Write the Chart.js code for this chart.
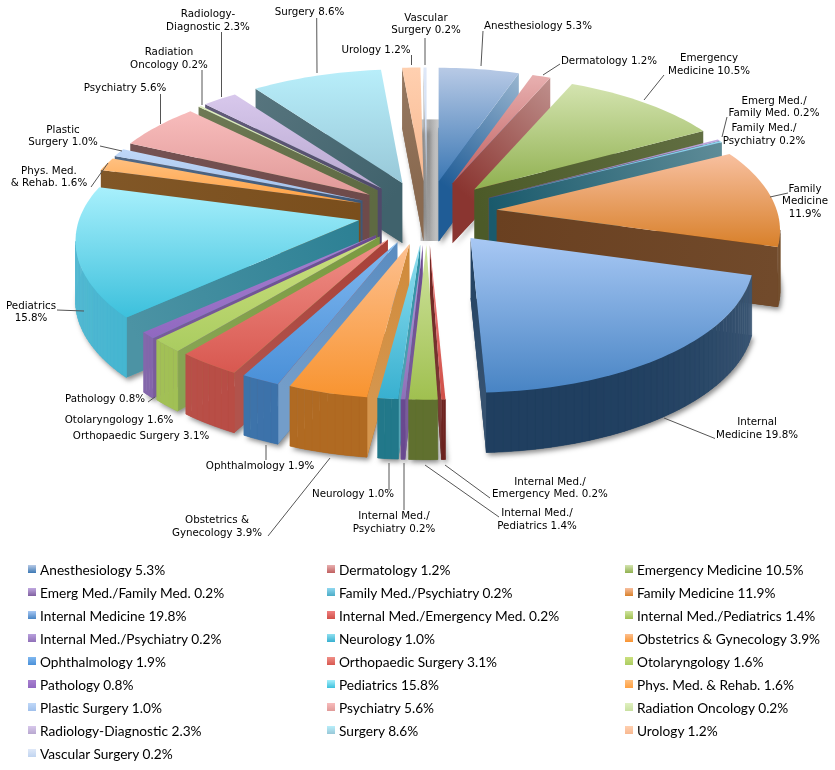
<!DOCTYPE html>
<html>
<head>
<meta charset="utf-8">
<title>Specialties</title>
<script src="https://cdn.jsdelivr.net/npm/chart.js@4"></script>
<style>
    html, body { margin: 0; background: #fff; }
    #wrap { position: relative; width: 835px; height: 770px; overflow: hidden; }
    #legend3d { position: absolute; left: 0; top: 557.5px; width: 835px; font: 13.7px Lato, sans-serif; color: #000; }
    #legend3d div { position: absolute; white-space: nowrap; line-height: 23px; }
    #legend3d i { position: absolute; left: -12px; top: 7px; width: 8px; height: 8px; }
</style>
</head>
<body>
<div id="wrap">
    <canvas id="specialtyChart" width="835" height="770"></canvas>
    <div id="legend3d"></div>
</div>
<script>
const specialties = ['Anesthesiology', 'Dermatology', 'Emergency Medicine', 'Emerg Med./Family Med.', 'Family Med./Psychiatry',
    'Family Medicine', 'Internal Medicine', 'Internal Med./Emergency Med.', 'Internal Med./Pediatrics', 'Internal Med./Psychiatry',
    'Neurology', 'Obstetrics & Gynecology', 'Ophthalmology', 'Orthopaedic Surgery', 'Otolaryngology', 'Pathology', 'Pediatrics',
    'Phys. Med. & Rehab.', 'Plastic Surgery', 'Psychiatry', 'Radiation Oncology', 'Radiology-Diagnostic', 'Surgery', 'Urology', 'Vascular Surgery'];
const percents = [5.3, 1.2, 10.5, 0.2, 0.2, 11.9, 19.8, 0.2, 1.4, 0.2, 1.0, 3.9, 1.9, 3.1, 1.6, 0.8, 15.8, 1.6, 1.0, 5.6, 0.2, 2.3, 8.6, 1.2, 0.2];

// top face gradient, pale end and full end
const paleColors = ['#b8cae6', '#e8b0b0', '#d4e4b0', '#c0a8e0', '#90d8f0', '#f8c0a0', '#a8c8f4', '#f08080', '#d0e4a0', '#b8a0dc',
    '#90e0f0', '#fdc090', '#80b8f0', '#f09088', '#cce080', '#a880d0', '#a8f0fc', '#ffc080', '#c0d8f8', '#f8bcbc', '#e0f0c0', '#d8c8ec', '#b8eefa', '#ffd0b0', '#dfe8f8'];
const fullColors = ['#3c78b4', '#c06060', '#90b050', '#8060a0', '#4bacc6', '#d8802a', '#4884c4', '#d05048', '#a0c050', '#9070b8',
    '#38b0d0', '#f89430', '#4a90d8', '#d85850', '#aacc60', '#9068c0', '#3cc0dc', '#ffa040', '#a0c0ec', '#e09a98', '#c8e0a0', '#b8a8d0', '#98c8d8', '#f8b890', '#c0d4f0'];
const rimColors = ['#1f5c96', '#8a3530', '#4c5a28', '#5a4a78', '#1a5a6c', '#65380f', '#203f60', '#6e2420', '#60702f', '#6a4a90',
    '#22788a', '#b06a22', '#3c72aa', '#b84c44', '#a0bf50', '#8060a8', '#3cb4d0', '#7a4e1c', '#3e5878', '#6e4a4a', '#5e6a42', '#504a6a', '#46656f', '#8a6a50', '#a8a8a8'];
const sideColors = ['#1f5c96', '#8a3530', '#4c5a28', '#5a4a78', '#1a5a6c', '#6a4020', '#203f60', '#6e2420', '#60702f', '#6a4a90',
    '#2a8ea2', '#d08a3a', '#5a8cc0', '#a84038', '#7a9a40', '#6a4a90', '#2c8094', '#7a4e1c', '#3e5878', '#6e4a4a', '#5e6a42', '#504a6a', '#40626c', '#8a6a50', '#a8a8a8'];
const sideLift = [0.55, 0.45, 0.12, 0.1, 0.3, 0.05, 0.1, 0.1, 0.1, 0.1, 0.2, 0.1, 0.15, 0.1, 0.1, 0.1, 0.15, 0.05, 0.1, 0.05, 0.1, 0.1, 0.12, 0.1, 0.1];

// callout text, its centre and first row, and the leader ends
const labelLines = [['Anesthesiology 5.3%'], ['Dermatology 1.2%'], ['Emergency', 'Medicine 10.5%'], ['Emerg Med./', 'Family Med. 0.2%'], ['Family Med./', 'Psychiatry 0.2%'],
    ['Family', 'Medicine', '11.9%'], ['Internal', 'Medicine 19.8%'], ['Internal Med./', 'Emergency Med. 0.2%'], ['Internal Med./', 'Pediatrics 1.4%'], ['Internal Med./', 'Psychiatry 0.2%'],
    ['Neurology 1.0%'], ['Obstetrics &', 'Gynecology 3.9%'], ['Ophthalmology 1.9%'], ['Orthopaedic Surgery 3.1%'], ['Otolaryngology 1.6%'], ['Pathology 0.8%'], ['Pediatrics', '15.8%'],
    ['Phys. Med.', '& Rehab. 1.6%'], ['Plastic', 'Surgery 1.0%'], ['Psychiatry 5.6%'], ['Radiation', 'Oncology 0.2%'], ['Radiology-', 'Diagnostic 2.3%'], ['Surgery 8.6%'], ['Urology 1.2%'], ['Vascular', 'Surgery 0.2%']];
const labelX = [538, 609, 709, 774, 764, 805, 757, 550, 537, 394, 353, 217, 260, 141, 119, 105, 31, 49, 63, 125, 169, 208, 309.5, 376, 426];
const labelY = [26, 61, 58.5, 101, 128.5, 189, 422.5, 482, 513.5, 516.5, 494.5, 520.5, 466.5, 436.5, 420, 399.5, 306, 171, 130, 88.5, 52.5, 14.5, 12.7, 50, 18];
const leaderEnds = [[483, 31, 481, 66], [560, 64, 543, 75], [664, 75, 644, 100], [727, 117, 722, 137], null, [788, 193, 770, 197], [715, 438.5, 664, 418], [490, 498, 445, 465], [499, 517, 425, 465], [404, 510, 404, 463],
    [389, 490, 389, 463], [268, 536, 330, 458], [266, 460, 266, 445], null, null, [148, 402, 155, 397], [57, 310, 84, 311], [91, 187, 108, 163], [100, 146, 122, 151], [160.5, 94, 160.5, 124], [202, 70, 202, 105], [221.5, 32, 221.5, 97], [316.7, 18, 317, 73], [411.5, 55, 411.5, 65], [425, 38, 425, 65]];

// projection of the tilted pie
const centerX = 427, centerY = 213;
const explodeX = 70, explodeY = 32;
const radiusX = 280, radiusY = 131, tilt = 0.153;
const wallDepth = 60;

function rgb(hex) {
    return [1, 3, 5].map(i => parseInt(hex.slice(i, i + 2), 16));
}
function mix(a, b, t) {
    const ca = rgb(a), cb = rgb(b);
    return 'rgb(' + ca.map((v, i) => Math.round(v + (cb[i] - v) * t)).join(',') + ')';
}

function sliceOutline(arc) {
    const from = arc.startAngle + Math.PI / 2;
    const to = arc.endAngle + Math.PI / 2;
    const mid = (from + to) / 2;
    const apex = [centerX + explodeX * Math.sin(mid), centerY - explodeY * Math.cos(mid)];
    const project = t => {
        const p = 1 / (1 + tilt * Math.cos(t));
        return [apex[0] + radiusX * Math.sin(t) * p, apex[1] - radiusY * Math.cos(t) * p];
    };
    const steps = Math.max(2, Math.ceil((to - from) * 40));
    const pts = [apex];
    for (let s = 0; s <= steps; s++) {
        pts.push(project(from + (to - from) * s / steps));
    }
    return { pts, apex, mid };
}

function tracePoly(ctx, pts, dy) {
    ctx.beginPath();
    pts.forEach((p, i) => i ? ctx.lineTo(p[0], p[1] + dy) : ctx.moveTo(p[0], p[1] + dy));
    ctx.closePath();
}

// soft grey strip on the ground behind the two thin back slices
function drawBackShadow(ctx, arcs) {
    const thin = sliceOutline(arcs[arcs.length - 1]);
    const next = sliceOutline(arcs[0]);
    const left = thin.apex[0] - 6, right = next.apex[0] + 2;
    const top = thin.pts[1][1] + wallDepth - 8, bottom = thin.apex[1] + wallDepth;
    const band = ctx.createLinearGradient(left, 0, right, 0);
    band.addColorStop(0, '#c8c8c8');
    band.addColorStop(0.45, '#a8a8a8');
    band.addColorStop(1, '#d4d4d4');
    ctx.fillStyle = band;
    ctx.fillRect(left, top, right - left, bottom - top);
}

function drawSlice(ctx, arc, i) {
    const { pts, apex } = sliceOutline(arc);
    const n = pts.length;

    ctx.save();
    ctx.shadowColor = 'rgba(0,0,0,0.45)';
    ctx.shadowBlur = 5;
    ctx.shadowOffsetX = 2;
    ctx.shadowOffsetY = 3;
    ctx.fillStyle = rimColors[i];
    tracePoly(ctx, pts, wallDepth);
    ctx.fill();
    ctx.restore();

    // walls: only edges running right to left face the viewer
    for (let k = 0; k < n; k++) {
        const a = pts[k], b = pts[(k + 1) % n];
        if (b[0] - a[0] >= 0) continue;
        const radial = k === 0 || k === n - 1;
        let fill;
        if (radial) {
            const rim = k === 0 ? b : a;
            fill = ctx.createLinearGradient(apex[0], apex[1], rim[0], rim[1]);
            fill.addColorStop(0, sideColors[i]);
            fill.addColorStop(1, mix(sideColors[i], '#ffffff', sideLift[i]));
        } else {
            const t = (a[0] + b[0]) / 2 - apex[0];
            fill = mix(rimColors[i], '#c8d0d8', 0.16 * Math.pow(Math.abs(t) / radiusX, 5));
        }
        tracePoly(ctx, [a, b, [b[0], b[1] + wallDepth], [a[0], a[1] + wallDepth]], 0);
        ctx.fillStyle = fill;
        ctx.fill();
        if (!radial) {
            ctx.strokeStyle = fill;
            ctx.lineWidth = 0.6;
            ctx.stroke();
        }
    }

    const ys = pts.map(p => p[1]);
    const face = ctx.createLinearGradient(0, Math.min(...ys), 0, Math.max(...ys));
    face.addColorStop(0, paleColors[i]);
    face.addColorStop(1, fullColors[i]);
    tracePoly(ctx, pts, 0);
    ctx.fillStyle = face;
    ctx.fill();
}

function drawCallouts(ctx, arcs) {
    ctx.font = '10.3px "DejaVu Sans"';
    ctx.textAlign = 'center';
    ctx.textBaseline = 'middle';
    arcs.forEach((arc, i) => {
        const bend = leaderEnds[i];
        if (bend) {
            ctx.beginPath();
            ctx.moveTo(bend[0], bend[1]);
            ctx.lineTo(bend[2], bend[3]);
            ctx.strokeStyle = '#555';
            ctx.lineWidth = 1;
            ctx.stroke();
        }
        ctx.fillStyle = '#000';
        labelLines[i].forEach((line, r) => ctx.fillText(line, labelX[i], labelY[i] + r * 12.6));
    });
}

const pie3d = {
    id: 'pie3d',
    beforeDatasetDraw(chart) {
        const ctx = chart.ctx;
        const arcs = chart.getDatasetMeta(0).data;
        // back slices first
        const order = arcs.map((arc, i) => i).sort((a, b) => {
            return Math.cos(sliceOutline(arcs[b]).mid) - Math.cos(sliceOutline(arcs[a]).mid);
        });
        drawBackShadow(ctx, arcs);
        order.forEach(i => drawSlice(ctx, arcs[i], i));
        drawCallouts(ctx, arcs);
        return false;
    }
};

document.addEventListener('DOMContentLoaded', () => {
    new Chart(document.getElementById('specialtyChart'), {
        type: 'pie',
        data: {
            labels: specialties,
            datasets: [{ data: percents, backgroundColor: fullColors, borderWidth: 0 }]
        },
        options: {
            responsive: false,
            animation: false,
            plugins: { legend: { display: false }, tooltip: { enabled: false } }
        },
        plugins: [pie3d]
    });

    const legend = document.getElementById('legend3d');
    const colX = [40, 339, 637];
    specialties.forEach((name, i) => {
        const item = document.createElement('div');
        item.style.left = colX[i % 3] + 'px';
        item.style.top = Math.floor(i / 3) * 23.1 + 'px';
        item.innerHTML = '<i style="background:linear-gradient(' + paleColors[i] + ',' + fullColors[i] + ')"></i>';
        item.appendChild(document.createTextNode(name + ' ' + percents[i].toFixed(1) + '%'));
        legend.appendChild(item);
    });
});
</script>
</body>
</html>
